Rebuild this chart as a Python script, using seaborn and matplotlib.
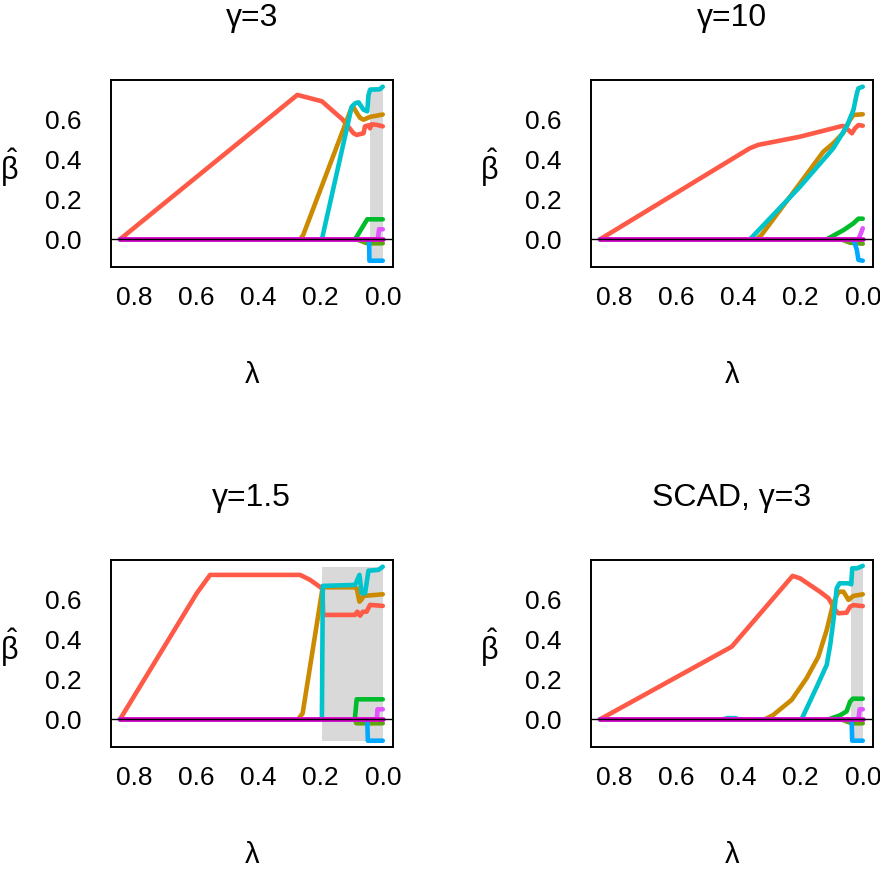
import numpy as np
import pandas as pd
import matplotlib
matplotlib.use("Agg")
import matplotlib.pyplot as plt
import seaborn as sns

# ---------------- data (lambda, beta) breakpoints ----------------
COEFS = ["b1", "b2", "b3", "b4", "b5", "b6", "b7", "b8"]
COLORS = ["#FF5A47", "#CC8A00", "#62A60E", "#00BC2A", "#00C3CC", "#00A8FF", "#E254FF", "#DD00C8"]
TITLES = ["\u03b3=3", "\u03b3=10", "\u03b3=1.5", "SCAD, \u03b3=3"]
XTICKS = [0.8, 0.6, 0.4, 0.2, 0.0]
YTICKS = [0.0, 0.2, 0.4, 0.6]

# panel 1 : gamma = 3
P1_B1 = [(0.846, 0), (0.275, 0.722), (0.196, 0.69), (0.13, 0.6), (0.094, 0.53), (0.084, 0.522),
         (0.062, 0.53), (0.057, 0.565), (0.046, 0.57), (0.041, 0.555), (0.036, 0.575), (0.019, 0.572), (0, 0.565)]
P1_B2 = [(0.846, 0), (0.266, 0), (0.256, 0.022), (0.1, 0.66), (0.094, 0.66), (0.084, 0.633), (0.073, 0.607),
         (0.062, 0.598), (0.041, 0.612), (0.02, 0.618), (0, 0.624)]
P1_B3 = [(0.846, 0), (0.085, 0), (0.05, -0.02), (0, -0.02)]
P1_B4 = [(0.846, 0), (0.089, 0), (0.05, 0.1), (0, 0.1)]
P1_B5 = [(0.846, 0), (0.196, 0), (0.1, 0.663), (0.089, 0.68), (0.078, 0.685), (0.062, 0.648), (0.05, 0.64),
         (0.046, 0.72), (0.041, 0.748), (0.01, 0.75), (0, 0.763)]
P1_B6 = [(0.846, 0), (0.044, 0), (0.043, -0.107), (0, -0.107)]
P1_B7 = [(0.846, 0), (0.016, 0), (0.012, 0.05), (0, 0.05)]
P1_B8 = [(0.846, 0), (0, 0)]

# panel 2 : gamma = 10
P2_B1 = [(0.846, 0), (0.364, 0.455), (0.337, 0.472), (0.202, 0.513), (0.068, 0.566), (0.062, 0.566),
         (0.046, 0.546), (0.035, 0.53), (0.025, 0.555), (0.014, 0.571), (0, 0.568)]
P2_B2 = [(0.846, 0), (0.342, 0), (0.326, 0.022), (0.202, 0.28), (0.127, 0.438), (0.095, 0.48),
         (0.064, 0.53), (0.041, 0.597), (0.03, 0.622), (0, 0.625)]
P2_B3 = [(0.846, 0), (0.07, 0), (0.041, -0.017), (0, -0.022)]
P2_B4 = [(0.846, 0), (0.116, 0), (0.062, 0.046), (0.03, 0.08), (0.014, 0.103), (0, 0.103)]
P2_B5 = [(0.846, 0), (0.363, 0), (0.202, 0.263), (0.095, 0.455), (0.052, 0.563), (0.03, 0.647),
         (0.019, 0.73), (0.014, 0.755), (0, 0.763)]
P2_B6 = [(0.846, 0), (0.03, 0), (0.019, -0.053), (0.014, -0.103), (0, -0.107)]
P2_B7 = [(0.846, 0), (0.014, 0), (0.006, 0.03), (0, 0.055)]
P2_B8 = [(0.846, 0), (0, 0)]

# panel 3 : gamma = 1.5
P3_B1 = [(0.846, 0), (0.599, 0.63), (0.556, 0.722), (0.266, 0.722), (0.234, 0.697), (0.196, 0.655),
         (0.194, 0.65), (0.192, 0.522), (0.089, 0.522), (0.082, 0.538), (0.073, 0.518), (0.064, 0.538),
         (0.052, 0.538), (0.041, 0.572), (0, 0.567)]
P3_B2 = [(0.846, 0), (0.272, 0), (0.258, 0.03), (0.194, 0.655), (0.19, 0.66), (0.089, 0.66),
         (0.084, 0.655), (0.075, 0.588), (0.068, 0.6), (0.062, 0.617), (0, 0.625)]
P3_B3 = [(0.846, 0), (0.09, 0), (0.085, -0.02), (0, -0.02)]
P3_B4 = [(0.846, 0), (0.09, 0), (0.084, 0.1), (0, 0.1)]
P3_B5 = [(0.846, 0), (0.196, 0), (0.193, 0.667), (0.089, 0.672), (0.075, 0.722), (0.068, 0.63),
         (0.057, 0.63), (0.046, 0.743), (0.014, 0.747), (0, 0.763)]
P3_B6 = [(0.846, 0), (0.05, 0), (0.048, -0.107), (0, -0.107)]
P3_B7 = [(0.846, 0), (0.019, 0), (0.017, 0.05), (0, 0.05)]
P3_B8 = [(0.846, 0), (0, 0)]

# panel 4 : SCAD, gamma = 3
P4_B1 = [(0.846, 0), (0.422, 0.363), (0.226, 0.717), (0.202, 0.705), (0.138, 0.638), (0.11, 0.605),
         (0.095, 0.563), (0.084, 0.538), (0.078, 0.53), (0.052, 0.533), (0.041, 0.563), (0.03, 0.571), (0, 0.566)]
P4_B2 = [(0.846, 0), (0.315, 0), (0.288, 0.022), (0.229, 0.097), (0.181, 0.205), (0.143, 0.313),
         (0.116, 0.447), (0.095, 0.58), (0.078, 0.638), (0.062, 0.638), (0.046, 0.597), (0.03, 0.617), (0, 0.625)]
P4_B3 = [(0.846, 0), (0.07, 0), (0.05, -0.012), (0.035, -0.02), (0, -0.02)]
P4_B4 = [(0.846, 0), (0.11, 0), (0.073, 0.02), (0.052, 0.04), (0.041, 0.088), (0.032, 0.103), (0, 0.103)]
P4_B5 = [(0.846, 0), (0.45, 0), (0.435, 0.006), (0.41, 0.006), (0.4, 0), (0.197, 0), (0.148, 0.163),
         (0.116, 0.272), (0.105, 0.37), (0.094, 0.5), (0.084, 0.655), (0.075, 0.68), (0.046, 0.68),
         (0.037, 0.675), (0.034, 0.755), (0.019, 0.755), (0, 0.767)]
P4_B6 = [(0.846, 0), (0.036, 0), (0.034, -0.107), (0, -0.107)]
P4_B7 = [(0.846, 0), (0.014, 0), (0.01, 0.05), (0, 0.05)]
P4_B8 = [(0.846, 0), (0, 0)]

# grey band (lambda from, lambda to) per panel, None = no band
SHADES = [(0.041, 0.0), None, (0.195, 0.0), (0.038, 0.0)]

PANELS = [
    [P1_B1, P1_B2, P1_B3, P1_B4, P1_B5, P1_B6, P1_B7, P1_B8],
    [P2_B1, P2_B2, P2_B3, P2_B4, P2_B5, P2_B6, P2_B7, P2_B8],
    [P3_B1, P3_B2, P3_B3, P3_B4, P3_B5, P3_B6, P3_B7, P3_B8],
    [P4_B1, P4_B2, P4_B3, P4_B4, P4_B5, P4_B6, P4_B7, P4_B8],
]

# ---------------- styling ----------------
sns.set_style("white")
plt.rcParams["font.family"] = ["Liberation Sans", "DejaVu Sans"]
plt.rcParams["mathtext.fontset"] = "custom"
plt.rcParams["mathtext.rm"] = "Liberation Sans"
plt.rcParams["mathtext.it"] = "Liberation Sans:italic"
for key in ["text.color", "axes.labelcolor", "xtick.color", "ytick.color", "axes.edgecolor"]:
    plt.rcParams[key] = "black"

W, H = 880, 869
fig = plt.figure(figsize=(W / 100, H / 100), dpi=100)

# axes boxes in pixels (left, top, right, bottom)
BOXES = [(110.7, 80, 392.7, 266.7), (590.7, 80, 872.7, 266.7),
         (110.7, 560, 392.7, 746.7), (590.7, 560, 872.7, 746.7)]

palette = dict(zip(COEFS, COLORS))

for i, (box, series, title, shade) in enumerate(zip(BOXES, PANELS, TITLES, SHADES)):
    l, t, r, b = box
    ax = fig.add_axes([l / W, 1 - b / H, (r - l) / W, (b - t) / H])
    rows = []
    for name, pts in zip(COEFS, series):
        for k, (lam, beta) in enumerate(pts):
            rows.append({"lam": lam, "beta": beta, "coef": name, "order": k})
    df = pd.DataFrame(rows)

    if shade is not None:
        ax.fill_between([shade[0], shade[1]], df["beta"].min(), df["beta"].max(),
                        color="#D9D9D9", lw=0, zorder=0.5)

    sns.lineplot(data=df, x="lam", y="beta", hue="coef", hue_order=COEFS, palette=palette,
                 sort=False, estimator=None, legend=False, linewidth=3.3, ax=ax, zorder=2)
    ax.axhline(0, color="black", lw=1.0, zorder=3)

    ax.set_xlim(0.876, -0.032)
    ax.set_ylim(-0.137, 0.7965)
    ax.set_xticks(XTICKS)
    ax.set_xticklabels([f"{v:.1f}" for v in XTICKS])
    ax.set_yticks(YTICKS)
    ax.set_yticklabels([f"{v:.1f}" for v in YTICKS])
    ax.set_xlabel("")
    ax.set_ylabel("")
    for sp in ax.spines.values():
        sp.set_visible(True)
        sp.set_color("black")
        sp.set_linewidth(1.4)
    ax.tick_params(axis="both", direction="out", length=10, width=1.4, colors="black",
                   labelsize=19)
    ax.tick_params(axis="x", pad=4)
    ax.tick_params(axis="y", pad=11)
    ax.grid(False)

    ax.text(0.5, 1.332, title, transform=ax.transAxes, ha="center", va="center", fontsize=23)
    ax.text(0.5, -0.58, "\u03bb", transform=ax.transAxes, ha="center", va="center", fontsize=21)
    ax.text(-0.36, 0.53, r"$\hat{\mathrm{\beta}}$", transform=ax.transAxes, ha="center",
            va="center", fontsize=22)

fig.savefig("out.png", dpi=100)
